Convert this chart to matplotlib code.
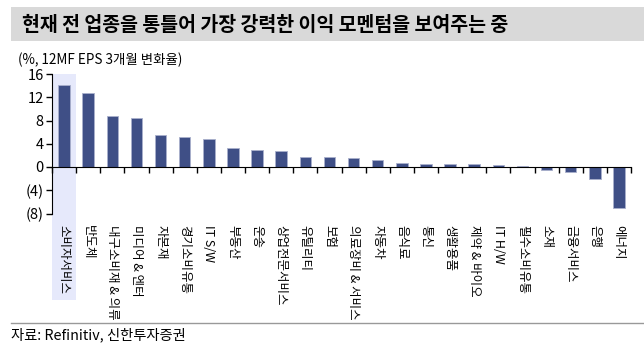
import matplotlib.pyplot as plt
import matplotlib.transforms as mtransforms
from matplotlib.patches import Rectangle
import numpy as np

plt.rcParams['font.family'] = ['Noto Sans CJK KR', 'DejaVu Sans']

categories = ["소비자서비스", "반도체", "내구소비재 & 의류", "미디어 & 엔터", "자본재", "경기소비유통",
              "IT S/W", "부동산", "운송", "상업전문서비스", "유틸리티", "보험",
              "의료장비 & 서비스", "자동차", "음식료", "통신", "생활용품", "제약 & 바이오",
              "IT H/W", "필수소비유통", "소재", "금융서비스", "은행", "에너지"]
values = [14.1, 12.7, 8.7, 8.5, 5.45, 5.2, 4.75, 3.2, 3.0, 2.75, 1.7, 1.75,
          1.5, 1.2, 0.7, 0.5, 0.5, 0.5, 0.3, 0.1, -0.6, -0.9, -2.1, -7.1]
yticks = [16, 12, 8, 4, 0, -4, -8]
ytick_labels = ["16", "12", "8", "4", "0", "(4)", "(8)"]

W, H = 644, 352
fig = plt.figure(figsize=(W / 100, H / 100), dpi=100)

# title bar
fig.patches.append(Rectangle((11 / W, 1 - 41 / H), 1 - 11 / W, 34 / H,
                             transform=fig.transFigure, facecolor="#d9d9d9",
                             edgecolor="none"))
fig.text(22 / W, 1 - 25 / H, "현재 전 업종을 통틀어 가장 강력한 이익 모멘텀을 보여주는 중",
         fontsize=14, fontweight="bold", va="center", ha="left")
fig.text(18 / W, 1 - 60 / H, "(%, 12MF EPS 3개월 변화율)", fontsize=9.7,
         va="center", ha="left")

ax = fig.add_axes([52 / W, 1 - 213.5 / H, (631 - 52) / W, (213.5 - 74) / H])
x = np.arange(len(categories))

# highlight first category
blend = mtransforms.blended_transform_factory(ax.transData, fig.transFigure)
ax.add_patch(Rectangle((-0.5, 1 - 300 / H), 1.0, (300 - 74) / H, transform=blend,
                       facecolor="#e6e9fb", edgecolor="none", clip_on=False, zorder=0))

ax.bar(x, values, width=0.48, color="#3f4f86", edgecolor="#a9b0cc", linewidth=0.6,
       zorder=2)

ax.set_xlim(-0.5, len(categories) - 0.5)
ax.set_ylim(-8, 16)
ax.set_yticks(yticks)
ax.set_yticklabels(ytick_labels, fontsize=10.5)
ax.set_xticks(np.arange(len(categories) + 1) - 0.5)
ax.set_xticklabels([])
ax.tick_params(axis="x", direction="out", length=4, width=1, color="black")
ax.tick_params(axis="y", direction="out", length=4, width=1, pad=2)
for s in ["top", "right"]:
    ax.spines[s].set_visible(False)
ax.spines["bottom"].set_position(("data", 0))
ax.spines["bottom"].set_zorder(3)
ax.patch.set_alpha(0)

for i, c in enumerate(categories):
    ax.text(i, 1 - 225 / H, c, transform=blend, rotation=-90, ha="center", va="top",
            fontsize=9)

# bottom line and source
fig.add_artist(plt.Line2D([11 / W, 1], [1 - 323 / H, 1 - 323 / H],
                          transform=fig.transFigure, color="#999999", linewidth=1))
fig.text(11 / W, 1 - 335 / H, "자료: Refinitiv, 신한투자증권", fontsize=10.3,
         va="center", ha="left")

fig.savefig("out.png", dpi=100)
